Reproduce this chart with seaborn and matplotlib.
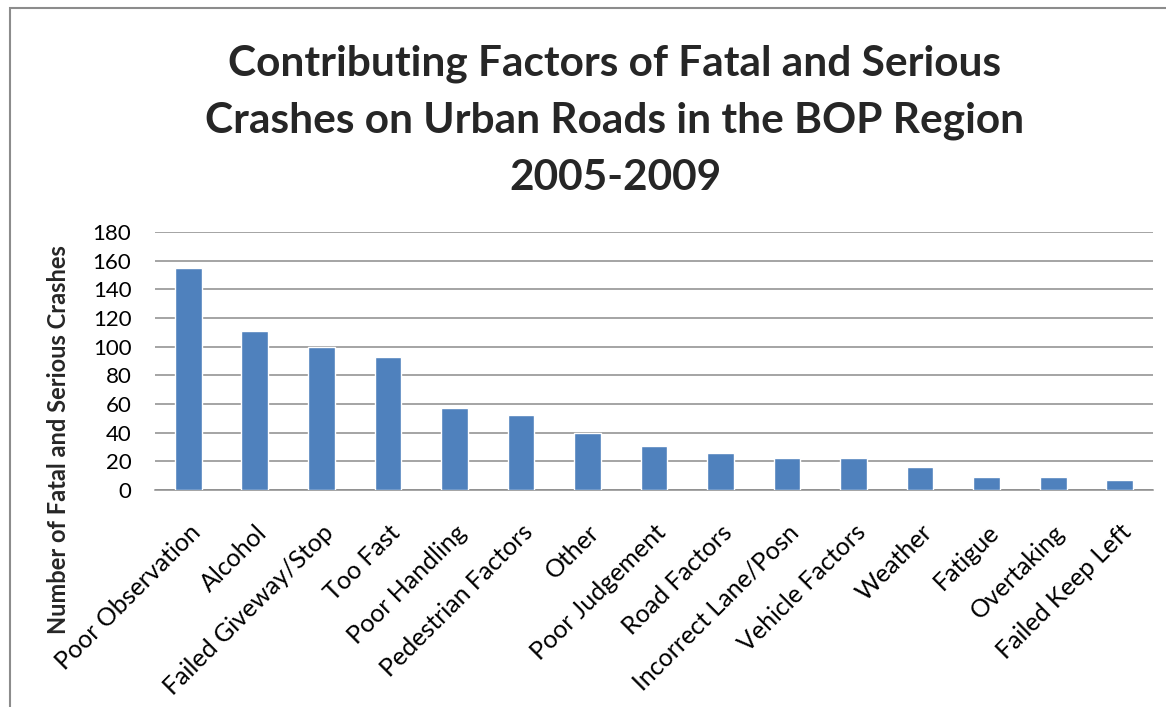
import matplotlib
matplotlib.use("Agg")
import matplotlib.pyplot as plt
import matplotlib.patches as mpatches
import seaborn as sns

factores = ["Poor Observation", "Alcohol", "Failed Giveway/Stop", "Too Fast",
            "Poor Handling", "Pedestrian Factors", "Other", "Poor Judgement",
            "Road Factors", "Incorrect Lane/Posn", "Vehicle Factors", "Weather",
            "Fatigue", "Overtaking", "Failed Keep Left"]
choques = [155, 111, 100, 93, 57, 52, 40, 31, 26, 22, 22, 16, 9, 9, 7]
y_ticks = list(range(0, 181, 20))

titulo = ("Contributing Factors of Fatal and Serious\n"
          "Crashes on Urban Roads in the BOP Region\n"
          "2005-2009")
etiqueta_y = "Number of Fatal and Serious Crashes"

sns.set_style("white")
plt.rcParams["font.family"] = ["Lato", "DejaVu Sans"]

fig = plt.figure(figsize=(11.66, 7.07), dpi=100)
ax = fig.add_axes([155 / 1166, 1 - 490 / 707, 998 / 1166, 258 / 707])

sns.barplot(x=factores, y=choques, color="#4F81BD", saturation=1,
            width=0.4, ax=ax, zorder=3)

ax.set_ylim(0, 180)
ax.set_yticks(y_ticks)
ax.set_xlim(-0.5, len(factores) - 0.5)
ax.yaxis.grid(True, color="#8c8c8c", linewidth=1.1, zorder=0)
ax.set_axisbelow(True)
for s in ["top", "right", "left"]:
    ax.spines[s].set_visible(False)
ax.spines["bottom"].set_color("#8c8c8c")
ax.spines["bottom"].set_linewidth(1.1)
ax.tick_params(axis="both", length=0, colors="black")
ax.tick_params(axis="y", pad=17, labelsize=16)
ax.set_xticks(range(len(factores)))
ax.set_xticklabels(factores, rotation=45, ha="right", rotation_mode="anchor",
                   fontsize=18)
ax.tick_params(axis="x", pad=22)
ax.set_xlabel("")
ax.set_ylabel("")

fig.text(59 / 1166, 1 - 440 / 707, etiqueta_y, rotation=90, ha="center",
         va="center", fontsize=17, fontweight="bold")
fig.text(615 / 1166, 1 - 121 / 707, titulo, ha="center", va="center",
         fontsize=30.5, fontweight="bold", linespacing=1.6)

# marco del grafico
marco = mpatches.Rectangle((10 / 1166, -0.05), 1.1, 1 - 8 / 707 + 0.05,
                           transform=fig.transFigure, fill=False,
                           edgecolor="#8c8c8c", linewidth=1.5)
fig.patches.append(marco)

fig.savefig("out.png", dpi=100)
